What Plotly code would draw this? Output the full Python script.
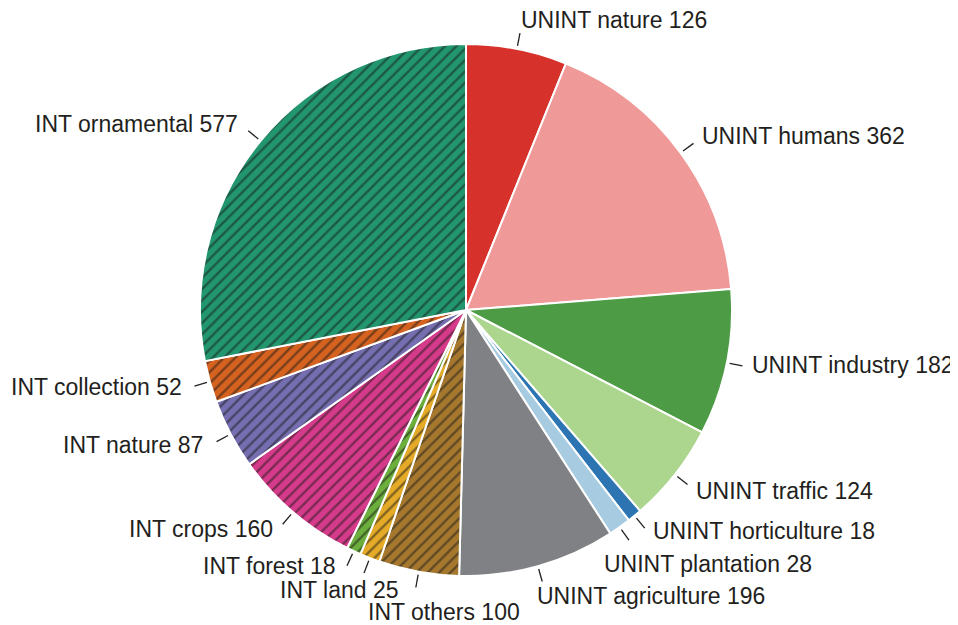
import math
import plotly.graph_objects as go

labels = ["UNINT nature", "UNINT humans", "UNINT industry", "UNINT traffic",
          "UNINT horticulture", "UNINT plantation", "UNINT agriculture",
          "INT others", "INT land", "INT forest", "INT crops", "INT nature",
          "INT collection", "INT ornamental"]
values = [126, 362, 182, 124, 18, 28, 196, 100, 25, 18, 160, 87, 52, 577]
hatched = [False] * 7 + [True] * 7
colors = ["#d7312b", "#f09999", "#4d9b44", "#acd68e", "#2c75b2", "#a7cbe1",
          "#808184", "#a6782e", "#e5ab28", "#6caf3c", "#d63a8a", "#756eb0",
          "#d5621f", "#21966f"]

# label nudges in pixels (to avoid overlaps, as in the original)
nudges = [(-3, -1), (-3.4, 0), (-4.4, -3.6), (-3.2, -1.1), (-1, -6),
          (-33.4, 13.7), (-10.7, 2.7), (108.7, 12.7), (40.6, 5.4),
          (-4, -10.3), (0.5, -3.9), (-0.6, -1.9), (0.8, -1.8), (0.9, 1)]

# page body has an 8px margin, so the figure is 8px smaller each way
W, H = 950, 617
L, T, R_, B = 192, 36, 226, 49
PW = W - L - R_
PH = H - T - B
cx, cy = L + PW / 2, T + PH / 2
rad = min(PW, PH) / 2

def px2paper(px, py):
    return (px - L) / PW, 1 - (py - T) / PH

fig = go.Figure(go.Pie(
    labels=labels, values=values, sort=False, direction="clockwise",
    rotation=0, textinfo="none", hoverinfo="label+value",
    marker=dict(colors=colors, line=dict(color="white", width=2),
                pattern=dict(shape=["/" if h else "" for h in hatched],
                             fgcolor="#1a1a1a", size=8, solidity=0.3,
                             fillmode="overlay")),
    showlegend=False,
))

total = sum(values)
cum = 0
annotations = []
shapes = []
textcol = "#231f20"
for lab, v, (dx, dy) in zip(labels, values, nudges):
    mid = (cum + v / 2) / total * 2 * math.pi
    cum += v
    s, c = math.sin(mid), math.cos(mid)
    x0, y0 = px2paper(cx + (rad + 3) * s, cy - (rad + 3) * c)
    x1, y1 = px2paper(cx + (rad + 16) * s, cy - (rad + 16) * c)
    shapes.append(dict(type="line", xref="paper", yref="paper",
                       x0=x0, y0=y0, x1=x1, y1=y1,
                       line=dict(color=textcol, width=1.3)))
    ax, ay = px2paper(cx + (rad + 28) * s + dx, cy - (rad + 28) * c + dy)
    annotations.append(dict(x=ax, y=ay, xref="paper", yref="paper",
                            text=f"{lab} {v}", showarrow=False,
                            xanchor="left" if s > 0 else "right",
                            yanchor="middle",
                            font=dict(size=23, color=textcol,
                                      family="Liberation Sans, Arial, sans-serif")))

fig.update_layout(width=W, height=H, margin=dict(l=L, r=R_, t=T, b=B),
                  paper_bgcolor="white", plot_bgcolor="white",
                  annotations=annotations, shapes=shapes)
fig.write_html("out.html")
